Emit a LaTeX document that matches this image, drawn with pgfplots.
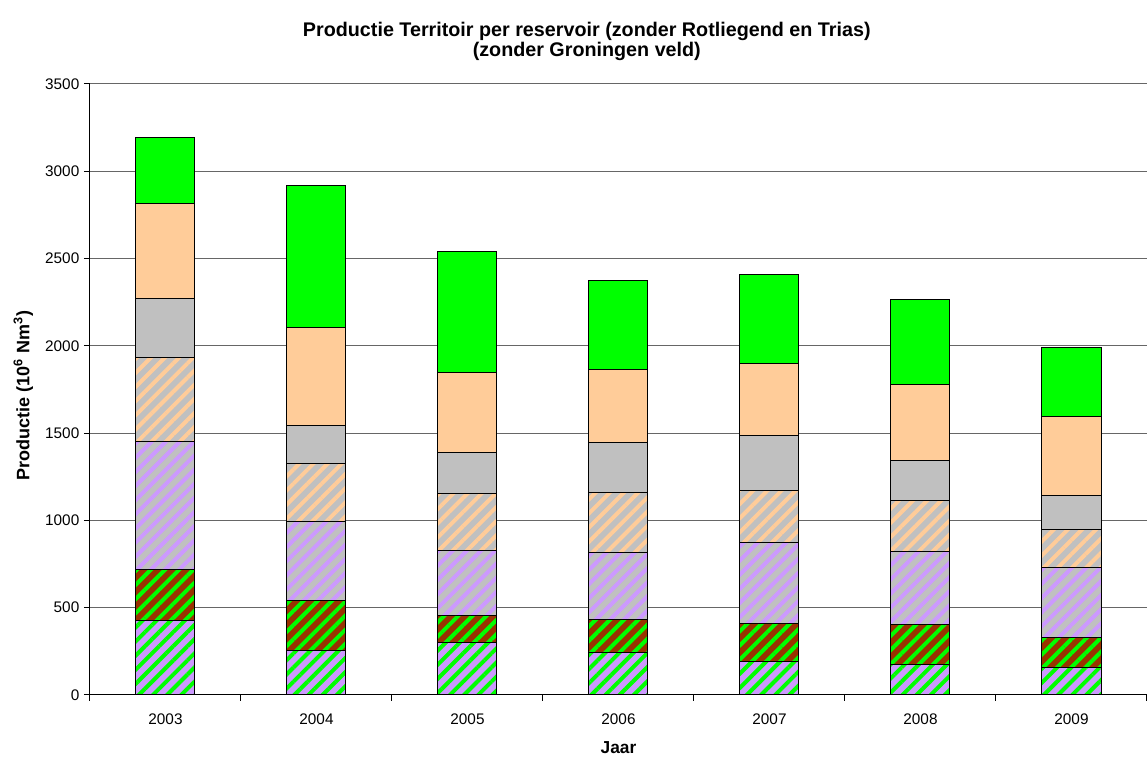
\documentclass[border=0pt]{standalone}
\usepackage{pgfplots}
\pgfplotsset{compat=1.18}
\usepackage{pgfplotstable}
\usepackage{fontspec}
\setmainfont{Liberation Sans}
\usetikzlibrary{patterns.meta}

\definecolor{cgreen}{HTML}{00FF00}
\definecolor{cbrown}{HTML}{993300}
\definecolor{clav}{HTML}{CC99FF}
\definecolor{cpeach}{HTML}{FFCC99}
\definecolor{cgray}{HTML}{C0C0C0}

\pgfplotstableread{
x s1 s2 s3 s4 s5 s6 s7
0 425 292 735 479 338 548 375
1 257 285 454 328 220 560 813
2 299 157 371 327 234 462 690
3 246 185 385 345 284 422 505
4 192 218 465 294 320 410 507
5 172 229 420 294 229 435 488
6 157 175 397 218 194 454 395
}\datatable

\tikzset{
  stripes/.style={postaction={pattern color=#1, pattern={Lines[angle=45,distance=7.5pt,line width=3pt]}}}
}

\begin{document}
\begin{tikzpicture}
\begin{axis}[
  scale only axis,
  width=792.75pt, height=458.25pt,
  at={(0,0)}, anchor=south west,
  ybar stacked,
  bar width=44.25pt,
  xmin=-0.5, xmax=6.5,
  ymin=0, ymax=3500,
  xtick={0,1,2,3,4,5,6},
  xticklabels={2003,2004,2005,2006,2007,2008,2009},
  minor xtick={-0.5,0.5,1.5,2.5,3.5,4.5,5.5,6.5},
  major x tick style={draw=none},
  ytick={0,500,...,3500},
  tick align=outside,
  major tick length=4.5pt,
  minor tick length=4.5pt,
  xtick pos=bottom, ytick pos=left,
  axis x line*=bottom, axis y line*=left,
  axis line style={black, line width=0.75pt},
  tick style={black, line width=0.75pt},
  ymajorgrids,
  major grid style={black!60, line width=0.75pt},
  /pgf/number format/assume math mode=true,
  /pgf/number format/1000 sep={},
  tick label style={font=\fontsize{11.5}{13}\selectfont},
  xticklabel style={yshift=-6pt},
  title={Productie Territoir per reservoir (zonder Rotliegend en Trias)\\(zonder Groningen veld)},
  title style={at={(0.470,1)}, anchor=center, yshift=26pt, align=center, font=\fontsize{14.8}{15.5}\selectfont\bfseries},
  xlabel={Jaar},
  xlabel style={at={(0.5,0)}, anchor=center, yshift=-39.75pt, font=\fontsize{13}{15}\selectfont\bfseries},
  ylabel={Productie (10\textsuperscript{6} Nm\textsuperscript{3})},
  ylabel style={at={(-0.063,0.49)}, anchor=center, font=\fontsize{13.5}{15}\selectfont\bfseries},
  every axis plot/.append style={draw=black, line width=0.75pt},
]
\addplot[fill=clav, stripes=cgreen] table[x=x, y=s1] {\datatable};
\addplot[fill=cbrown, stripes=cgreen] table[x=x, y=s2] {\datatable};
\addplot[fill=cgray, stripes=clav] table[x=x, y=s3] {\datatable};
\addplot[fill=cgray, stripes=cpeach] table[x=x, y=s4] {\datatable};
\addplot[fill=cgray] table[x=x, y=s5] {\datatable};
\addplot[fill=cpeach] table[x=x, y=s6] {\datatable};
\addplot[fill=cgreen] table[x=x, y=s7] {\datatable};
\end{axis}
\pgfresetboundingbox
\path[use as bounding box] (-67.5pt,-51pt) rectangle (792.75pt,521.25pt);
\end{tikzpicture}
\end{document}
